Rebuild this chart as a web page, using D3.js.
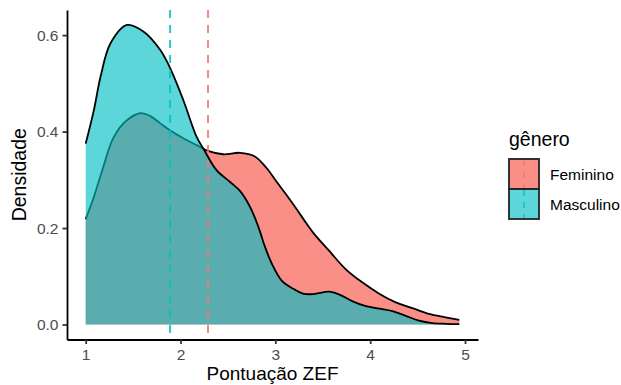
<!DOCTYPE html>
<html>
<head>
<meta charset="utf-8">
<script src="https://cdn.jsdelivr.net/npm/d3@7/dist/d3.min.js"></script>
<style>
  body { margin: 0; background: #fff; }
  svg { display: block; font-family: "Liberation Sans", Arial, sans-serif; }
</style>
</head>
<body>
<svg id="chart" width="621" height="385"></svg>
<script>
// density estimates
const femX = [1.00, 1.087, 1.175, 1.297, 1.437, 1.577, 1.682, 1.787, 1.892, 2.03, 2.17, 2.29, 2.45, 2.626, 2.78, 2.905, 3.01, 3.12, 3.207, 3.295, 3.40, 3.571, 3.746, 3.92, 4.095, 4.27, 4.445, 4.62, 4.795, 4.94];
const femY = [0.2185, 0.265, 0.32, 0.389, 0.424, 0.438, 0.432, 0.417, 0.402, 0.386, 0.372, 0.36, 0.353, 0.356, 0.349, 0.325, 0.297, 0.268, 0.244, 0.219, 0.19, 0.152, 0.114, 0.087, 0.064, 0.046, 0.034, 0.022, 0.015, 0.0095];
const mascX = [1.00, 1.087, 1.157, 1.262, 1.437, 1.612, 1.787, 1.892, 2.03, 2.17, 2.24, 2.38, 2.52, 2.627, 2.733, 2.82, 2.891, 2.961, 3.067, 3.189, 3.29, 3.40, 3.571, 3.676, 3.815, 3.955, 4.095, 4.235, 4.375, 4.515, 4.655, 4.80, 4.94];
const mascY = [0.375, 0.445, 0.514, 0.583, 0.621, 0.607, 0.569, 0.531, 0.465, 0.389, 0.365, 0.32, 0.296, 0.277, 0.244, 0.203, 0.161, 0.127, 0.091, 0.074, 0.064, 0.063, 0.068, 0.062, 0.048, 0.038, 0.033, 0.028, 0.018, 0.008, 0.003, 0.0015, 0.001];

const groups = ["Feminino", "Masculino"];
const groupMeans = [2.29, 1.89];
const groupColors = ["#F8766D", "#00BFC4"];
const xTicks = [1, 2, 3, 4, 5];
const yTicks = [0, 0.2, 0.4, 0.6];

const series = [
  { name: groups[0], color: groupColors[0], alpha: 0.82, mean: groupMeans[0], pts: femX.map((x, i) => ({ x: x, y: femY[i] })) },
  { name: groups[1], color: groupColors[1], alpha: 0.64, mean: groupMeans[1], pts: mascX.map((x, i) => ({ x: x, y: mascY[i] })) }
];

const panel = { left: 67, right: 478, top: 10, bottom: 339.5 };

// ggplot style 5% expansion
const xMin = d3.min(femX.concat(mascX)), xMax = d3.max(femX.concat(mascX));
const yMax = d3.max(femY.concat(mascY));
const xPad = (xMax - xMin) * 0.05, yPad = yMax * 0.05;

const x = d3.scaleLinear().domain([xMin - xPad, xMax + xPad]).range([panel.left, panel.right]);
const y = d3.scaleLinear().domain([-yPad, yMax + yPad]).range([panel.bottom, panel.top]);

const svg = d3.select("#chart");

const area = d3.area().x(d => x(d.x)).y0(y(0)).y1(d => y(d.y)).curve(d3.curveCatmullRom);
const line = d3.line().x(d => x(d.x)).y(d => y(d.y)).curve(d3.curveCatmullRom);

// each group: fill then upper outline
series.forEach(s => {
  svg.append("path")
    .attr("d", area(s.pts))
    .attr("fill", s.color)
    .attr("fill-opacity", s.alpha);
  svg.append("path")
    .attr("d", line(s.pts))
    .attr("fill", "none")
    .attr("stroke", "#000")
    .attr("stroke-width", 1.8);
});

// mean lines
series.forEach(s => {
  svg.append("line")
    .attr("x1", x(s.mean)).attr("x2", x(s.mean))
    .attr("y1", panel.top).attr("y2", panel.bottom)
    .attr("stroke", s.color)
    .attr("stroke-opacity", 0.85)
    .attr("stroke-width", 2)
    .attr("stroke-dasharray", "8,7");
});

// axes
const xAxis = svg.append("g")
  .attr("transform", `translate(0,${panel.bottom})`)
  .call(d3.axisBottom(x).tickValues(xTicks).tickFormat(d3.format("d")).tickSizeInner(4.5).tickSizeOuter(0).tickPadding(5));
const yAxis = svg.append("g")
  .attr("transform", `translate(${panel.left},0)`)
  .call(d3.axisLeft(y).tickValues(yTicks).tickFormat(d3.format(".1f")).tickSizeInner(4.5).tickSizeOuter(0).tickPadding(4));

[xAxis, yAxis].forEach(g => {
  g.select(".domain").attr("stroke", "#000").attr("stroke-width", 1.8);
  g.selectAll(".tick line").attr("stroke", "#333").attr("stroke-width", 1.8);
  g.selectAll(".tick text").attr("fill", "#4D4D4D").style("font-size", "15.5px").style("font-family", "Liberation Sans, Arial, sans-serif");
});

svg.append("text")
  .attr("x", (panel.left + panel.right) / 2)
  .attr("y", 380)
  .attr("text-anchor", "middle")
  .style("font-size", "19px")
  .text("Pontuação ZEF");

svg.append("text")
  .attr("transform", `translate(26,${(panel.top + panel.bottom) / 2}) rotate(-90)`)
  .attr("text-anchor", "middle")
  .style("font-size", "19.5px")
  .text("Densidade");

// legend
const legend = svg.append("g").attr("transform", "translate(509,0)");
legend.append("text")
  .attr("x", 0).attr("y", 146)
  .style("font-size", "19.5px")
  .text("gênero");

const key = 30;
series.forEach((s, i) => {
  const top = 159 + i * key;
  legend.append("rect")
    .attr("x", 0).attr("y", top)
    .attr("width", key).attr("height", key)
    .attr("fill", s.color)
    .attr("fill-opacity", s.alpha)
    .attr("stroke", "#222")
    .attr("stroke-width", 1.8);
  legend.append("line")
    .attr("x1", key / 2).attr("x2", key / 2)
    .attr("y1", top + 1).attr("y2", top + key - 1)
    .attr("stroke", s.color)
    .attr("stroke-opacity", 0.85)
    .attr("stroke-width", 1.6)
    .attr("stroke-dasharray", "6,6");
  legend.append("text")
    .attr("x", 41).attr("y", top + key / 2)
    .attr("dy", "0.36em")
    .style("font-size", "15.5px")
    .text(s.name);
});
</script>
</body>
</html>
